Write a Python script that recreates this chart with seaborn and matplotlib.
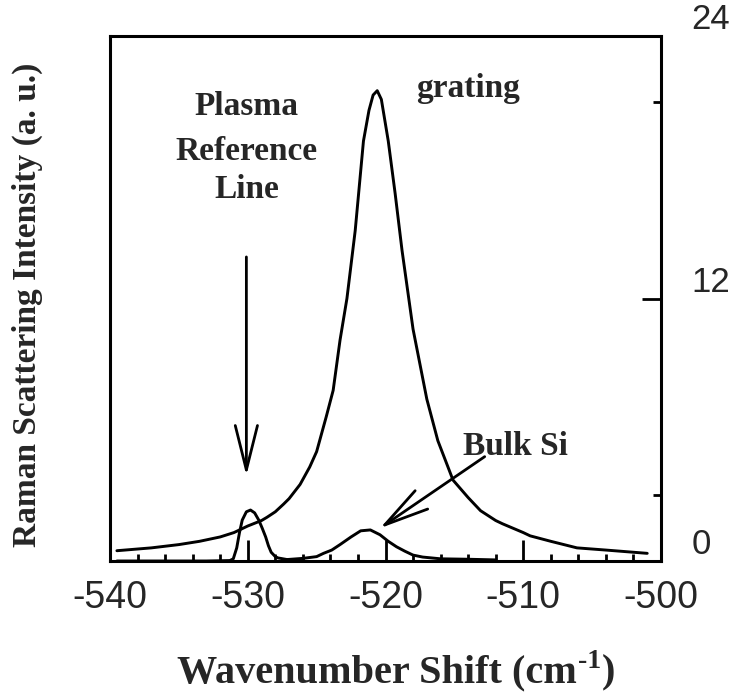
import matplotlib
matplotlib.use("Agg")
import numpy as np
import pandas as pd
import seaborn as sns
import matplotlib.pyplot as plt
from matplotlib.ticker import FixedLocator

# ---------------- data ----------------
grating_x = [-539.5, -537.0, -535.0, -533.5, -532.0, -531.0, -530.0, -529.0, -528.6, -528.0,
             -527.4, -527.0, -526.2, -525.5, -525.0, -524.3, -523.8, -523.3, -522.8, -522.2,
             -521.6, -521.2, -520.9, -520.6, -520.3, -519.8, -519.3, -518.8, -518.0, -517.0,
             -516.2, -515.1, -514.0, -513.1, -512.0, -511.5, -510.0, -509.5, -508.0, -506.1,
             -504.0, -502.0, -501.0]
grating_y = [0.47, 0.60, 0.75, 0.90, 1.10, 1.30, 1.60, 1.85, 2.00, 2.25,
             2.60, 2.85, 3.50, 4.30, 5.00, 6.60, 7.80, 10.1, 12.0, 15.1,
             19.2, 20.6, 21.3, 21.5, 21.1, 19.2, 16.8, 14.2, 10.6, 7.4,
             5.5, 3.7, 2.9, 2.3, 1.85, 1.70, 1.30, 1.15, 0.90, 0.60,
             0.50, 0.40, 0.35]

plasma_x = [-539.5, -533.0, -531.3, -531.05, -530.8, -530.6, -530.4, -530.1, -529.8, -529.5,
            -529.2, -528.95, -528.7, -528.5, -528.3, -528.0, -527.8, -527.0, -526.0]
plasma_y = [0.0, 0.0, 0.02, 0.10, 0.60, 1.30, 1.87, 2.25, 2.33, 2.20,
            1.87, 1.50, 1.10, 0.70, 0.40, 0.20, 0.14, 0.05, 0.0]

bulk_x = [-527.5, -526.0, -525.0, -524.5, -523.9, -523.3, -522.5, -521.8, -521.1, -520.4,
          -519.8, -519.2, -518.6, -518.0, -517.3, -516.0, -514.0, -512.0]
bulk_y = [0.05, 0.12, 0.20, 0.35, 0.50, 0.75, 1.10, 1.38, 1.42, 1.20,
          0.90, 0.65, 0.45, 0.27, 0.18, 0.10, 0.08, 0.05]

x_ticks = [-540, -530, -520, -510, -500]
x_minor = [-538, -536, -534, -532, -528, -526, -524, -522, -518, -516, -514, -512,
           -508, -506, -504, -502]
y_ticks = [0, 12, 24]
y_minor = [3, 21]

# annotation anchors (data coords)
plasma_arrow_start = (-530.1, 13.9)
plasma_arrow_tip = (-530.1, 3.9)
bulk_arrow_start = (-512.8, 4.77)
bulk_arrow_tip = (-520.4, 1.5)

# ---------------- style ----------------
sns.set_style("ticks")
plt.rcParams["font.family"] = ["Liberation Serif", "DejaVu Serif"]
plt.rcParams["axes.unicode_minus"] = False

W, H = 733, 694
fig = plt.figure(figsize=(W / 100, H / 100), dpi=100)
ax = fig.add_axes([110 / W, (H - 561) / H, (661 - 110) / W, (561 - 36) / H])

df_g = pd.DataFrame({"x": grating_x, "y": grating_y})
df_p = pd.DataFrame({"x": plasma_x, "y": plasma_y})
df_b = pd.DataFrame({"x": bulk_x, "y": bulk_y})
for d in (df_g, df_p, df_b):
    sns.lineplot(data=d, x="x", y="y", ax=ax, color="black", lw=2.1, errorbar=None)

ax.set_xlim(-540, -500)
ax.set_ylim(0, 24)

ax.xaxis.set_major_locator(FixedLocator(x_ticks))
ax.xaxis.set_minor_locator(FixedLocator(x_minor))
ax.yaxis.set_major_locator(FixedLocator(y_ticks))
ax.yaxis.set_minor_locator(FixedLocator(y_minor))
ax.set_xticklabels([str(v) for v in x_ticks])
ax.set_yticklabels([str(v) for v in y_ticks])

ax.tick_params(axis="x", which="both", direction="in", top=False, bottom=True,
               width=2, color="black")
ax.tick_params(axis="x", which="major", length=15, pad=14, labelsize=27,
               labelfontfamily="Liberation Sans")
ax.tick_params(axis="x", which="minor", length=5)
ax.tick_params(axis="y", which="both", direction="in", left=False, right=True,
               labelleft=False, labelright=True, width=2, color="black")
ax.tick_params(axis="y", which="major", length=14, pad=22, labelsize=25,
               labelfontfamily="Liberation Sans")
ax.tick_params(axis="y", which="minor", length=6)
for lbl in ax.get_yticklabels():
    lbl.set_verticalalignment("bottom")

for s in ax.spines.values():
    s.set_linewidth(2.2)
    s.set_color("black")

ax.set_xlabel("")
ax.set_ylabel("Raman Scattering Intensity (a. u.)", fontsize=24, fontweight="bold")
ax.yaxis.label.set_verticalalignment("center")
ax.yaxis.label.set_horizontalalignment("center")
ax.yaxis.set_label_coords((27 - 110) / 551, (561 - 305) / 525)

txt_kw = dict(fontsize=24, fontweight="bold", ha="center", va="baseline")
ax.text(-514.0, 21.2, "grating", **txt_kw)
ax.text(-530.1, 20.39, "Plasma", **txt_kw)
ax.text(-530.1, 18.33, "Reference", **txt_kw)
ax.text(-530.1, 16.59, "Line", **txt_kw)
ax.text(-510.6, 4.85, "Bulk Si", **txt_kw)

arrow_kw = dict(arrowstyle="->, head_length=1.6, head_width=0.4", lw=2, color="black",
                shrinkA=0, shrinkB=0, mutation_scale=20)
ax.annotate("", xy=plasma_arrow_tip, xytext=plasma_arrow_start, arrowprops=arrow_kw)
ax.annotate("", xy=bulk_arrow_tip, xytext=bulk_arrow_start, arrowprops=arrow_kw)

# x axis title with a hyphen-minus superscript, built from three text pieces
fig.canvas.draw()
r = fig.canvas.get_renderer()
base_y = 682
lab_kw = dict(fontweight="bold", ha="left", va="baseline")
t1 = fig.text(177 / W, (H - base_y) / H, "Wavenumber Shift (cm", fontsize=29, **lab_kw)
bb1 = t1.get_window_extent(r)
t2 = fig.text((bb1.x1 + 1) / W, (H - base_y + 14) / H, "-1", fontsize=20, **lab_kw)
bb2 = t2.get_window_extent(r)
t3 = fig.text((bb2.x1 + 1) / W, (H - base_y) / H, ")", fontsize=29, **lab_kw)

fig.savefig("out.png", dpi=100)
